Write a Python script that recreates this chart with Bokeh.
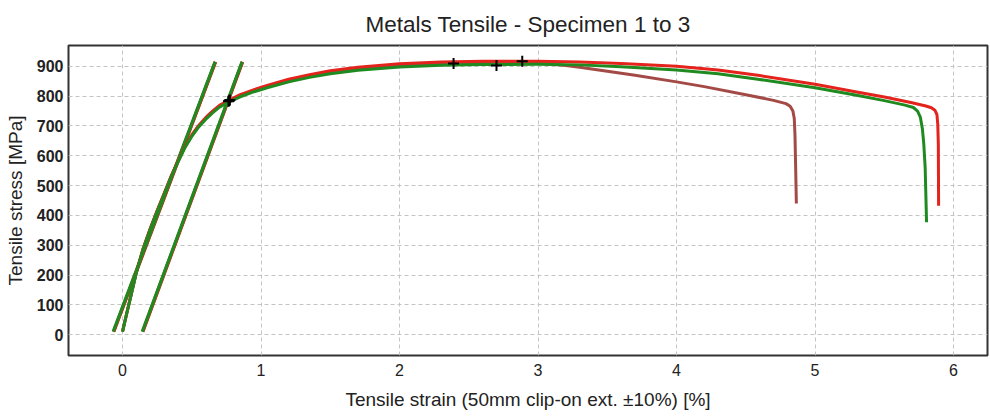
from bokeh.plotting import figure
from bokeh.embed import file_html
from bokeh.resources import INLINE
from bokeh.models import FixedTicker, Range1d

# Specimen 1 (brown)
strain_1 = [0.0, 0.03, 0.06, 0.1, 0.15, 0.2, 0.25, 0.3, 0.35, 0.4, 0.45, 0.5, 0.55, 0.6, 0.65, 0.7, 0.77, 0.85, 0.95, 1.05, 1.2, 1.35, 1.5, 1.7, 2.0, 2.3, 2.6, 2.9, 3.05, 3.2, 3.3, 3.4, 3.7, 4.0, 4.2, 4.5, 4.7, 4.79, 4.82, 4.84, 4.85, 4.855, 4.86, 4.865]
stress_1 = [10, 70, 129, 209, 289, 354, 414, 471, 529, 580, 628, 667, 699, 725, 747, 766, 784, 801, 818, 833, 852, 867, 879, 891, 902, 908, 911, 911, 909, 903, 897, 890, 870, 848, 832, 805, 786, 775, 766, 750, 725, 670, 560, 440]
# Specimen 2 (red)
strain_2 = [0.0, 0.03, 0.06, 0.1, 0.15, 0.2, 0.25, 0.3, 0.35, 0.4, 0.45, 0.5, 0.55, 0.6, 0.65, 0.7, 0.77, 0.85, 0.95, 1.05, 1.2, 1.35, 1.5, 1.7, 2.0, 2.3, 2.6, 3.0, 3.3, 3.6, 4.0, 4.3, 4.6, 5.0, 5.3, 5.5, 5.7, 5.8, 5.84, 5.865, 5.88, 5.886, 5.89, 5.892]
stress_2 = [10, 71, 130, 210, 291, 356, 416, 473, 531, 582, 631, 670, 702, 728, 750, 769, 787, 805, 822, 837, 857, 872, 885, 897, 909, 915, 917, 917, 915, 910, 900, 888, 869, 840, 814, 797, 778, 767, 761, 753, 738, 705, 640, 432]
# Specimen 3 (green)
strain_3 = [0.0, 0.03, 0.06, 0.1, 0.15, 0.2, 0.25, 0.3, 0.35, 0.4, 0.45, 0.5, 0.55, 0.6, 0.65, 0.7, 0.77, 0.85, 0.95, 1.05, 1.2, 1.35, 1.5, 1.7, 2.0, 2.3, 2.6, 3.0, 3.3, 3.6, 4.0, 4.3, 4.6, 5.0, 5.3, 5.5, 5.65, 5.71, 5.74, 5.76, 5.775, 5.785, 5.795, 5.805]
stress_3 = [10, 70, 129, 209, 288, 353, 413, 470, 528, 579, 627, 665, 697, 722, 744, 763, 781, 798, 815, 829, 848, 863, 875, 887, 898, 904, 906, 907, 905, 899, 888, 875, 856, 828, 803, 785, 770, 762, 750, 730, 690, 640, 560, 377]

# Modulus lines and 0.2% offset lines (start, end) per specimen
mod_x = [[-0.065, 0.67], [-0.063, 0.672], [-0.067, 0.668]]
mod_y = [[10, 915], [10, 915], [10, 915]]
off_x = [[0.145, 0.865], [0.147, 0.867], [0.143, 0.863]]
off_y = [[10, 915], [10, 915], [10, 915]]

# Yield and ultimate markers
yield_x = [0.77, 0.775, 0.765]
yield_y = [785, 787, 783]
ult_x = [2.39, 2.886, 2.70]
ult_y = [910, 917, 903]

colors = ["#a34a46", "#e3231c", "#1f8a1f"]
xticks = [0, 1, 2, 3, 4, 5, 6]
yticks = [0, 100, 200, 300, 400, 500, 600, 700, 800, 900]

p = figure(width=990, height=416, output_backend="svg", toolbar_location=None,
           title="Metals Tensile - Specimen 1 to 3",
           x_range=Range1d(-0.39, 6.245), y_range=Range1d(-70, 970),
           min_border_left=68, min_border_right=3, min_border_top=45, min_border_bottom=61)

p.title.align = "center"
p.title.text_font = "Liberation Sans"
p.title.text_font_size = "22.5px"
p.title.text_font_style = "normal"
p.title.text_color = "#222222"
p.title.standoff = 18

strains = [strain_1, strain_2, strain_3]
stresses = [stress_1, stress_2, stress_3]
for i in range(3):
    p.line(mod_x[i], mod_y[i], line_color=colors[i], line_width=3.2)
    p.line(off_x[i], off_y[i], line_color=colors[i], line_width=3.2)
for i in range(3):
    p.line(strains[i], stresses[i], line_color=colors[i], line_width=3,
           line_join="round")

p.scatter(yield_x + ult_x, yield_y + ult_y, marker="cross", size=11, line_color="black", line_width=2)

p.xaxis.ticker = FixedTicker(ticks=xticks)
p.yaxis.ticker = FixedTicker(ticks=yticks)
p.xaxis.axis_label = "Tensile strain (50mm clip-on ext. \u00b110%) [%]"
p.yaxis.axis_label = "Tensile stress [MPa]"
for ax in (p.xaxis[0], p.yaxis[0]):
    ax.axis_label_text_font = "Liberation Sans"
    ax.axis_label_text_font_size = "19px"
    ax.axis_label_text_font_style = "normal"
    ax.axis_label_text_color = "#222222"
    ax.major_label_text_font = "Liberation Sans"
    ax.major_label_text_font_size = "16px"
    ax.major_label_text_color = "#222222"
    ax.major_tick_in = 0
    ax.major_tick_out = 0
    ax.minor_tick_in = 0
    ax.minor_tick_out = 0
    ax.axis_line_color = None
p.yaxis.major_label_text_font_style = "bold"
p.xaxis.major_label_standoff = 8
p.yaxis.major_label_standoff = 5
p.xaxis.axis_label_standoff = 10
p.yaxis.axis_label_standoff = 8

p.grid.grid_line_color = "#c4c4c4"
p.grid.grid_line_dash = "4 3"
p.grid.grid_line_width = 1
p.outline_line_color = "#333333"
p.outline_line_width = 2
p.background_fill_color = "white"
p.border_fill_color = "white"

open("out.html", "w").write(file_html(p, INLINE))
